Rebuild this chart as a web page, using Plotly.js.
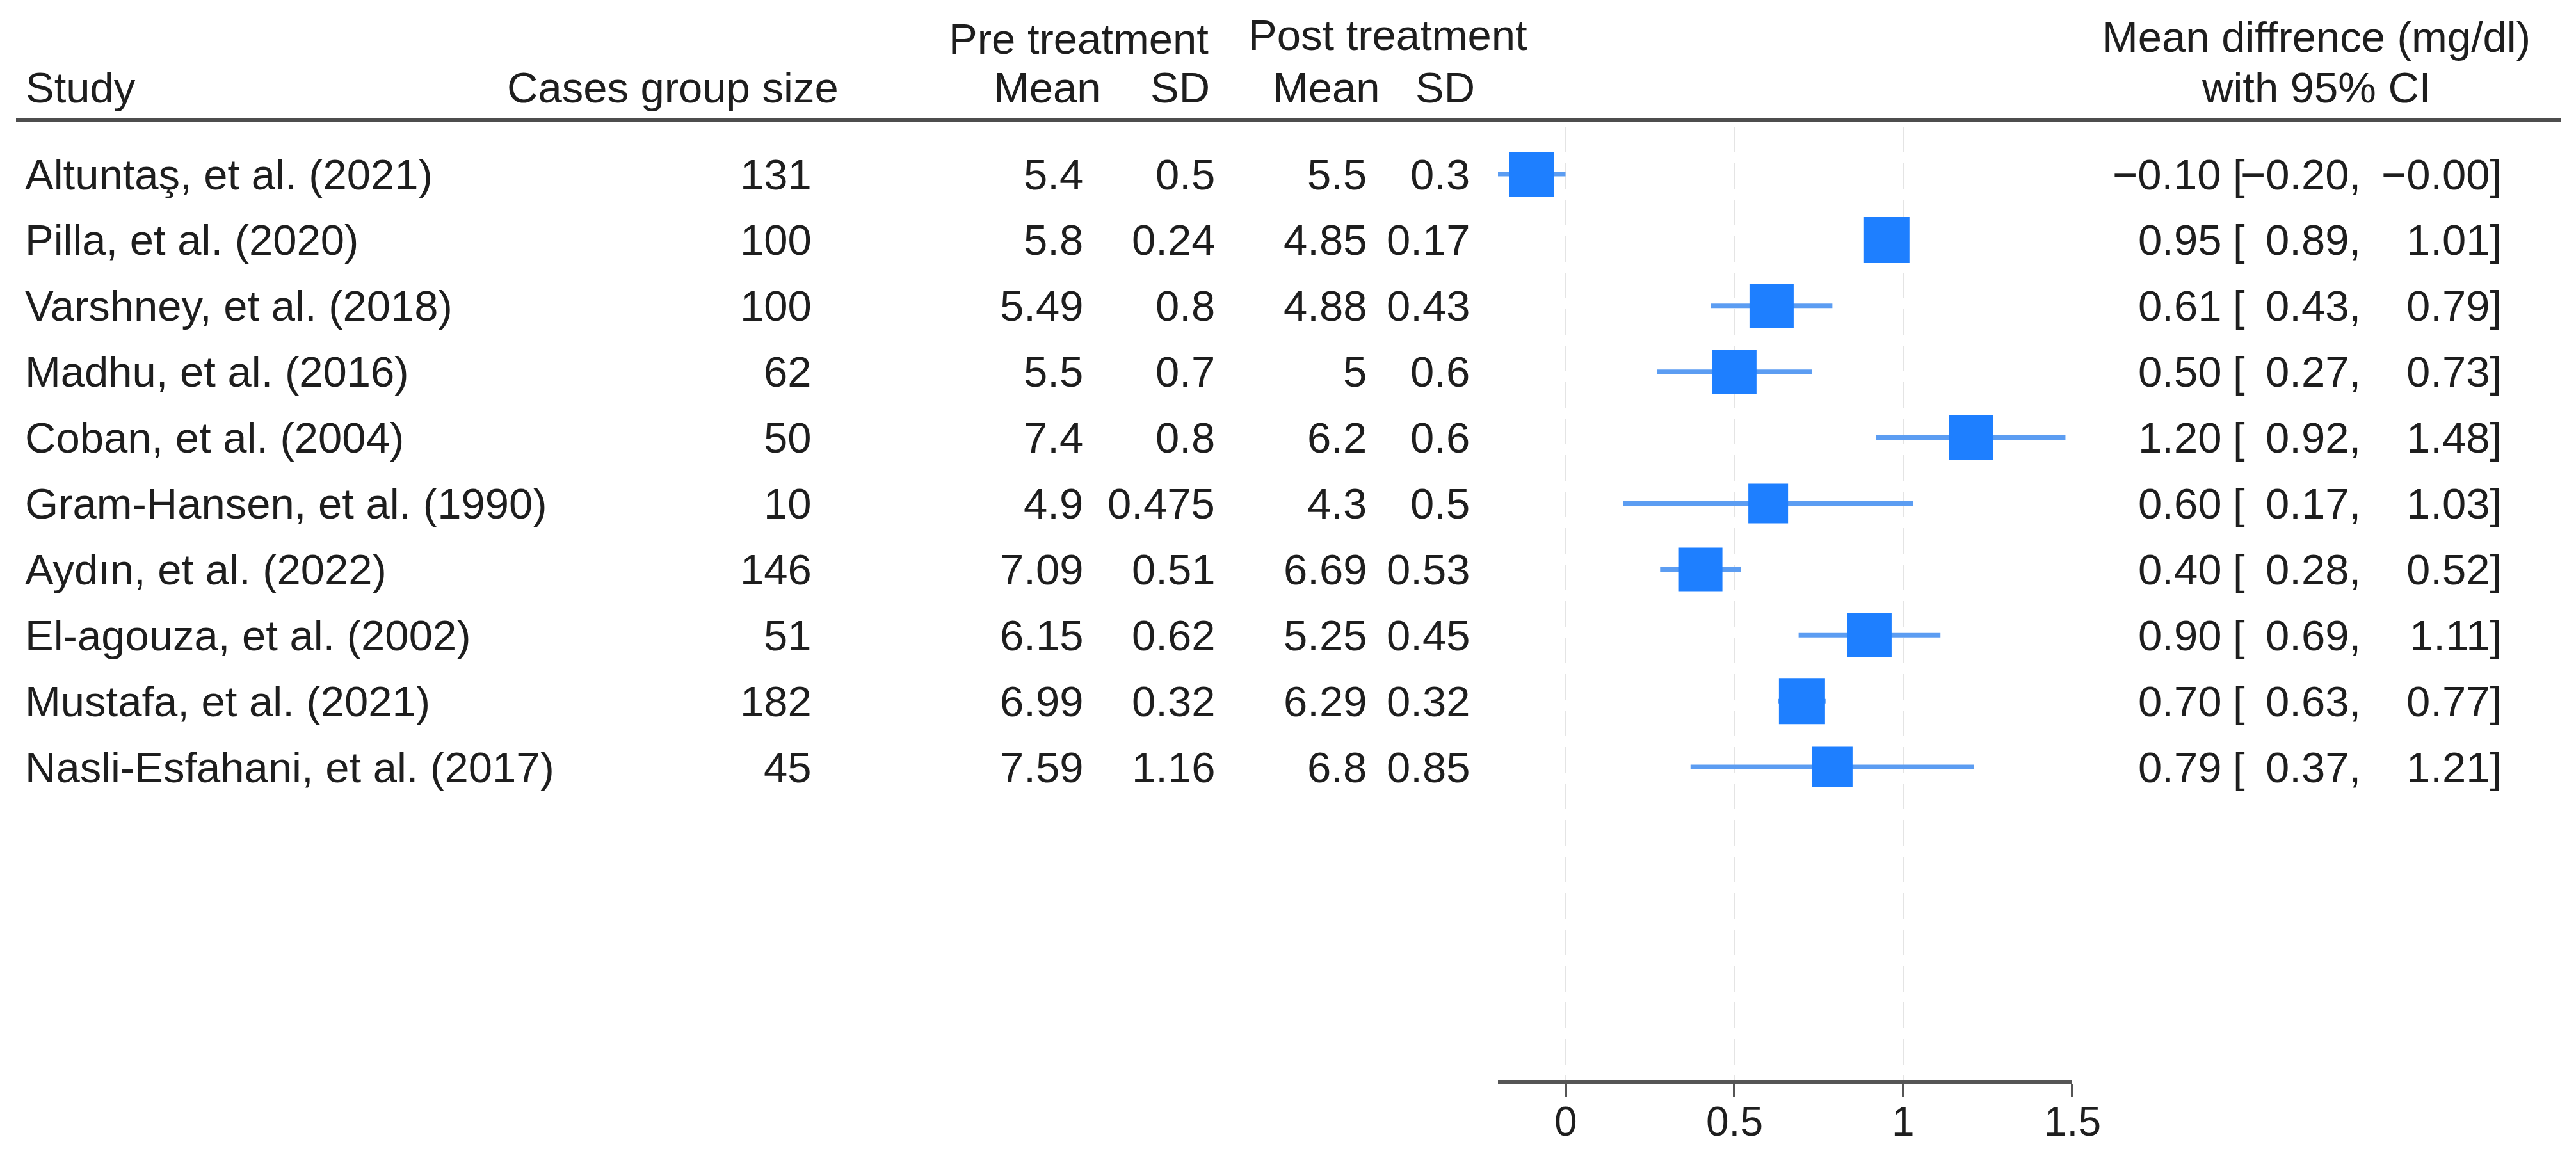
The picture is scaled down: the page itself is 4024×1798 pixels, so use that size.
<!DOCTYPE html>
<html>
<head>
<meta charset="utf-8">
<script src="https://cdn.plot.ly/plotly-3.0.1.min.js"></script>
<style>html,body{margin:0;padding:0;background:#fff;}</style>
</head>
<body>
<div id="chart"></div>
<script>
// ---------------- data ----------------
const studies = [
  "Altuntaş, et al. (2021)",
  "Pilla, et al. (2020)",
  "Varshney, et al. (2018)",
  "Madhu, et al. (2016)",
  "Coban, et al. (2004)",
  "Gram-Hansen, et al. (1990)",
  "Aydın, et al. (2022)",
  "El-agouza, et al. (2002)",
  "Mustafa, et al. (2021)",
  "Nasli-Esfahani, et al. (2017)"
];
const groupSize = [131, 100, 100, 62, 50, 10, 146, 51, 182, 45];
const preMean  = [5.4, 5.8, 5.49, 5.5, 7.4, 4.9, 7.09, 6.15, 6.99, 7.59];
const preSD    = [0.5, 0.24, 0.8, 0.7, 0.8, 0.475, 0.51, 0.62, 0.32, 1.16];
const postMean = [5.5, 4.85, 4.88, 5, 6.2, 4.3, 6.69, 5.25, 6.29, 6.8];
const postSD   = [0.3, 0.17, 0.43, 0.6, 0.6, 0.5, 0.53, 0.45, 0.32, 0.85];
const meanDiff = [-0.10, 0.95, 0.61, 0.50, 1.20, 0.60, 0.40, 0.90, 0.70, 0.79];
const ciLower  = [-0.20, 0.89, 0.43, 0.27, 0.92, 0.17, 0.28, 0.69, 0.63, 0.37];
const ciUpper  = [-0.00, 1.01, 0.79, 0.73, 1.48, 1.03, 0.52, 1.11, 0.77, 1.21];
const tickVals   = [0, 0.5, 1, 1.5];
const tickLabels = ["0", "0.5", "1", "1.5"];

// ---------------- styles ----------------
const W = 4024, H = 1798;
const FONT = "Liberation Sans, Arial, Helvetica, sans-serif";
const TXT = "#1e1e1e";
const FS = 67;
const markerSizes = [70, 72, 69, 69, 69, 62, 68, 69, 72, 63];

const rows = studies.map((_, i) => i);
const py = px => 1 - px / H;   // pixel from top -> paper y
const pxX = px => px / W;      // pixel from left -> paper x

function fmt2(v) {
  const neg = v < 0 || Object.is(v, -0);
  return (neg ? "\u2212" : "") + Math.abs(v).toFixed(2);
}

const ann = [];
function addText(text, xpx, y, xanchor, yref, size) {
  ann.push({
    text: text, x: pxX(xpx), xref: "paper",
    y: y, yref: yref || "paper",
    xanchor: xanchor, yanchor: "middle",
    showarrow: false,
    font: {family: FONT, size: size || FS, color: TXT}
  });
}

// header
addText("Pre treatment", 1685, py(60), "center");
addText("Post treatment", 2168, py(55), "center");
addText("Mean diffrence (mg/dl)", 3618, py(58), "center");
addText("Study", 38, py(137), "left");
addText("Cases group size", 1312, py(137), "right");
addText("Mean", 1722, py(137), "right");
addText("SD", 1892, py(137), "right");
addText("Mean", 2158, py(137), "right");
addText("SD", 2306, py(137), "right");
addText("with 95% CI", 3618, py(137), "center");

// rows
rows.forEach(i => {
  addText(studies[i], 37, i, "left", "y");
  addText(String(groupSize[i]), 1270, i, "right", "y");
  addText(String(preMean[i]), 1694, i, "right", "y");
  addText(String(preSD[i]), 1900, i, "right", "y");
  addText(String(postMean[i]), 2137, i, "right", "y");
  addText(String(postSD[i]), 2298, i, "right", "y");
  addText(fmt2(meanDiff[i]), 3472, i, "right", "y");
  addText("[", 3486, i, "left", "y");
  addText(fmt2(ciLower[i]) + ",", 3690, i, "right", "y");
  addText(fmt2(ciUpper[i]) + "]", 3910, i, "right", "y");
});

// tick labels placed through the x axis scale
tickVals.forEach((v, k) => {
  ann.push({
    text: tickLabels[k], x: v, xref: "x", y: py(1752), yref: "paper",
    xanchor: "center", yanchor: "middle", showarrow: false,
    font: {family: FONT, size: 64, color: TXT}
  });
});

const rowTop = 272, rowStep = 102.9;
const yTopPx = 198, yBotPx = 1687;

const ciTrace = {
  type: "scatter", mode: "markers",
  x: meanDiff, y: rows,
  marker: {symbol: "square", size: markerSizes, color: "#1e7fff", opacity: 1, line: {width: 0}},
  error_x: {
    type: "data", symmetric: false,
    array: meanDiff.map((m, i) => ciUpper[i] - m),
    arrayminus: meanDiff.map((m, i) => m - ciLower[i]),
    width: 0, thickness: 7, color: "#5c9df2"
  },
  hoverinfo: "skip", showlegend: false, cliponaxis: false
};

const layout = {
  width: W, height: H,
  margin: {l: 0, r: 0, t: 0, b: 0, pad: 0},
  paper_bgcolor: "#ffffff", plot_bgcolor: "#ffffff",
  showlegend: false,
  xaxis: {
    domain: [pxX(2340), pxX(3237)],
    range: [-0.2, 1.5],
    tickmode: "array", tickvals: tickVals, ticktext: tickLabels,
    showticklabels: false,
    showgrid: true, gridcolor: "#e4e4e4", gridwidth: 3, griddash: "40px,17px",
    zeroline: false,
    showline: true, linecolor: "#555555", linewidth: 6,
    ticks: "outside", ticklen: 20, tickwidth: 4, tickcolor: "#555555",
    fixedrange: true
  },
  yaxis: {
    domain: [py(yBotPx), py(yTopPx)],
    range: [(yBotPx - rowTop) / rowStep, (yTopPx - rowTop) / rowStep],
    showgrid: false, zeroline: false, showticklabels: false, showline: false,
    ticks: "", fixedrange: true
  },
  shapes: [{
    type: "line", xref: "paper", yref: "paper",
    x0: pxX(25), x1: pxX(4000), y0: py(188), y1: py(188),
    line: {color: "#4d4d4d", width: 6}
  }],
  annotations: ann,
  hovermode: false
};

Plotly.newPlot("chart", [ciTrace], layout, {displayModeBar: false, staticPlot: true});
</script>
</body>
</html>
